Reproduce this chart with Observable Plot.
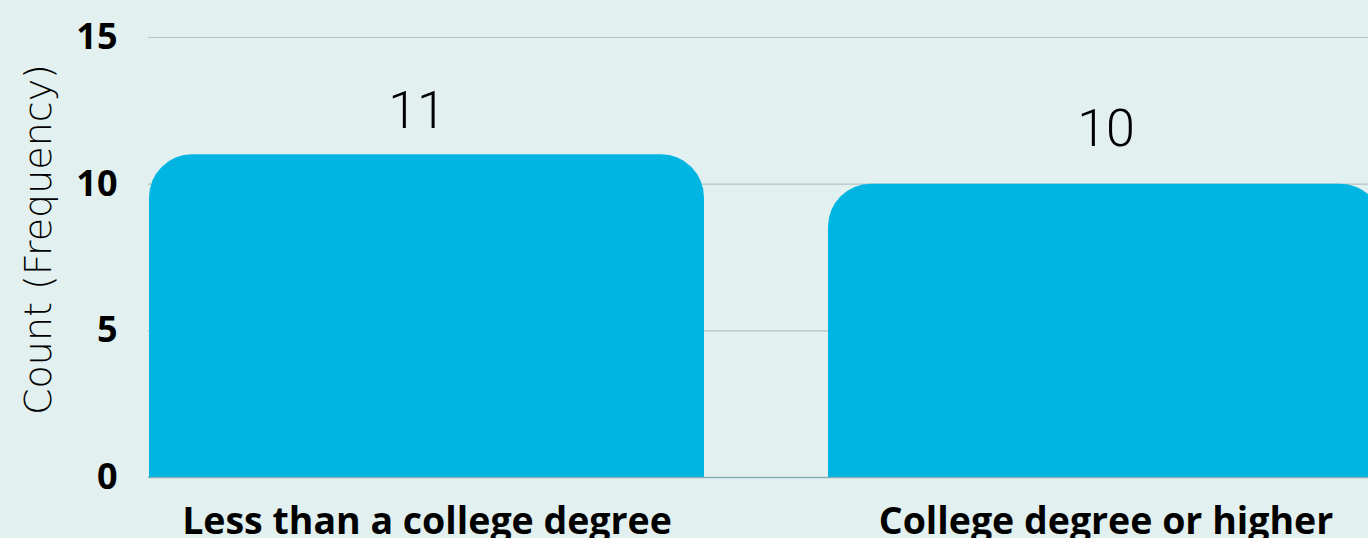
<!DOCTYPE html>
<html>
<head>
<meta charset="utf-8">
<script src="https://cdn.jsdelivr.net/npm/d3@7"></script>
<script src="https://cdn.jsdelivr.net/npm/@observablehq/plot@0.6"></script>
<style>
  html, body { margin: 0; padding: 0; background: #e2f0f0; overflow: hidden; width: 1368px; height: 538px; }
  #chart svg { display: block; background: #e2f0f0; max-width: none !important; }
</style>
</head>
<body>
<div id="chart"></div>
<script>
const categories = ["Less than a college degree", "College degree or higher"];
const counts = [11, 10];
const yTicks = [0, 5, 10, 15];
const yLabel = "Count (Frequency)";

const data = categories.map((c, i) => ({category: c, count: counts[i]}));
const barColor = "#00b5e2";

const chart = Plot.plot({
  width: 1400,
  height: 538,
  marginLeft: 148,
  marginRight: 16,
  marginTop: 37,
  marginBottom: 61,
  style: {background: "#e2f0f0", color: "#000", maxWidth: "none"},
  x: {domain: categories, paddingInner: 0.182, paddingOuter: 0, label: null},
  y: {domain: [0, 15], ticks: yTicks, label: null},
  marks: [
    Plot.gridY(yTicks, {stroke: "#a9b6b6", strokeOpacity: 0.8, strokeWidth: 1.2}),
    Plot.barY(data, {x: "category", y: "count", fill: barColor, rx: 43}),
    Plot.barY(data, {x: "category", y1: 0, y2: d => d.count / 2, fill: barColor}),
    Plot.ruleY([0], {stroke: "#7aa8b4", strokeOpacity: 0.8, strokeWidth: 1.5}),
    Plot.axisY({ticks: yTicks, tickSize: 0, tickPadding: 31, fontSize: 36, fontWeight: 700, fontFamily: "Open Sans", label: null}),
    Plot.axisX({tickSize: 0, tickPadding: 30, fontSize: 37.5, fontWeight: 700, fontFamily: "Open Sans", label: null}),
    Plot.text(data.filter(d => d.category === categories[0]), {x: "category", y: "count", text: d => String(d.count), dx: -10, dy: -43, fontSize: 52, fontWeight: 300, fontFamily: "Roboto", fill: "#000"}),
    Plot.text(data.filter(d => d.category === categories[1]), {x: "category", y: "count", text: d => String(d.count), dy: -55, fontSize: 52, fontWeight: 300, fontFamily: "Roboto", fill: "#000"}),
    Plot.text([yLabel], {frameAnchor: "left", textAnchor: "middle", text: d => d, rotate: -90, dx: -110, dy: -18, fontSize: 38, fontWeight: 200, fontFamily: "DejaVu Sans", fill: "#000"})
  ]
});
document.getElementById("chart").append(chart);
</script>
</body>
</html>
